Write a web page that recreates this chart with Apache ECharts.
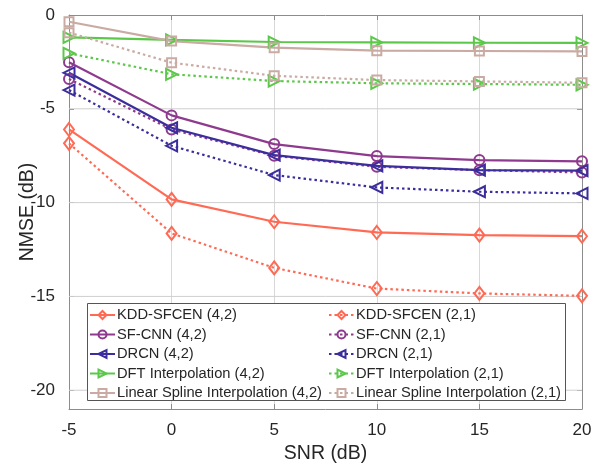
<!DOCTYPE html>
<html><head><meta charset="utf-8">
<script src="https://cdn.jsdelivr.net/npm/echarts@6/dist/echarts.min.js"></script>
<style>html,body{margin:0;padding:0;background:#fff}#c{width:600px;height:464px}</style>
</head><body><div id="c"></div>
<script>
const snr = [-5, 0, 5, 10, 15, 20];
const yTicks = [-20, -15, -10, -5, 0];
const kdd42 = [-6.10, -9.83, -11.02, -11.59, -11.73, -11.79];
const kdd21 = [-6.84, -11.64, -13.48, -14.58, -14.84, -14.97];
const sfcnn42 = [-2.52, -5.35, -6.88, -7.52, -7.73, -7.80];
const sfcnn21 = [-3.41, -6.10, -7.50, -8.09, -8.27, -8.39];
const drcn42 = [-3.08, -6.01, -7.47, -8.04, -8.27, -8.30];
const drcn21 = [-4.00, -6.97, -8.53, -9.19, -9.42, -9.51];
const dft42 = [-1.19, -1.33, -1.44, -1.46, -1.48, -1.49];
const dft21 = [-2.04, -3.16, -3.52, -3.64, -3.68, -3.72];
const spline42 = [-0.36, -1.39, -1.74, -1.90, -1.92, -1.94];
const spline21 = [-0.94, -2.54, -3.24, -3.47, -3.54, -3.61];

const names = {
  kdd42: 'KDD-SFCEN (4,2)', kdd21: 'KDD-SFCEN (2,1)',
  sf42: 'SF-CNN (4,2)', sf21: 'SF-CNN (2,1)',
  dr42: 'DRCN (4,2)', dr21: 'DRCN (2,1)',
  dft42: 'DFT Interpolation (4,2)', dft21: 'DFT Interpolation (2,1)',
  sp42: 'Linear Spline Interpolation (4,2)', sp21: 'Linear Spline Interpolation (2,1)'
};
const C = { kdd: '#ff6a55', sf: '#8e3a8e', dr: '#3b2e9c', dft: '#5cc84a', sp: '#c9aba3' };

function mk(name, vals, color, symbol, rot, size, dotted) {
  return {
    name, type: 'line', data: snr.map((x, i) => [x, vals[i]]),
    symbol, symbolRotate: rot, symbolSize: size, z: 3,
    lineStyle: { color, width: 2.2, type: dotted ? [2.5, 3] : 'solid' },
    itemStyle: { color: 'rgba(255,255,255,0)', borderColor: color, borderWidth: 2 },
    emphasis: { disabled: true }, animation: false
  };
}
const series = [];
// horizontal grid lines at the y tick values (under the data)
yTicks.filter(v => v !== 0).forEach(v => {
  series.push({
    name: 'grid' + v, type: 'line', silent: true, z: 1, symbol: 'none', animation: false,
    data: [[snr[0], v], [snr[snr.length - 1], v]],
    lineStyle: { color: '#cfcfcf', width: 1 }, emphasis: { disabled: true }
  });
});
series.push(
  mk(names.kdd42, kdd42, C.kdd, 'diamond', 0, [10, 13], false),
  mk(names.kdd21, kdd21, C.kdd, 'diamond', 0, [10, 13], true),
  mk(names.sf42, sfcnn42, C.sf, 'circle', 0, 10, false),
  mk(names.sf21, sfcnn21, C.sf, 'circle', 0, 10, true),
  mk(names.dr42, drcn42, C.dr, 'triangle', 90, 11, false),
  mk(names.dr21, drcn21, C.dr, 'triangle', 90, 11, true),
  mk(names.dft42, dft42, C.dft, 'triangle', -90, 11, false),
  mk(names.dft21, dft21, C.dft, 'triangle', -90, 11, true),
  mk(names.sp42, spline42, C.sp, 'rect', 0, 9, false),
  mk(names.sp21, spline21, C.sp, 'rect', 0, 9, true)
);

const fontFam = '"Liberation Sans", Arial, sans-serif';
const legendBase = {
  orient: 'vertical', itemWidth: 25, itemHeight: 10, itemGap: 3.5, top: 307, z: 10,
  textStyle: { fontFamily: fontFam, fontSize: 14.7, color: '#262626', lineHeight: 16, padding: [0, 0, 0, -3] },
  selectedMode: false, padding: 0
};
const axisCol = '#8c8c8c';
const gridCol = '#d8d8d8';

const chart = echarts.init(document.getElementById('c'), null, { renderer: 'canvas' });
chart.setOption({
  animation: false,
  backgroundColor: '#fff',
  grid: { left: 69, right: 18, top: 15, bottom: 55, containLabel: false, outerBoundsMode: 'none' },
  xAxis: [{
    type: 'value', min: -5, max: 20, interval: 5, position: 'bottom',
    name: 'SNR (dB)', nameLocation: 'middle', nameGap: 35, nameMoveOverlap: false,
    nameTextStyle: { fontFamily: fontFam, fontSize: 19.5, color: '#262626' },
    axisLine: { show: true, onZero: false, lineStyle: { color: axisCol, width: 1 } },
    axisTick: { show: true, inside: true, length: 5, lineStyle: { color: axisCol } },
    axisLabel: { fontFamily: fontFam, fontSize: 17, color: '#262626', margin: 13 },
    splitLine: { show: true, lineStyle: { color: gridCol, width: 1 } }
  }, {
    type: 'value', min: -5, max: 20, interval: 5, position: 'top',
    axisLine: { show: true, onZero: false, lineStyle: { color: axisCol, width: 1 } },
    axisTick: { show: true, inside: true, length: 5, lineStyle: { color: axisCol } },
    axisLabel: { show: false }, splitLine: { show: false }
  }],
  yAxis: [{
    type: 'value', min: -21, max: 0, position: 'left',
    name: 'NMSE (dB)', nameLocation: 'middle', nameGap: 31, nameMoveOverlap: false,
    nameTextStyle: { fontFamily: fontFam, fontSize: 19.5, color: '#262626' },
    axisLine: { show: true, onZero: false, lineStyle: { color: axisCol, width: 1 } },
    axisTick: { show: true, inside: true, length: 5, customValues: yTicks, lineStyle: { color: axisCol } },
    axisLabel: { fontFamily: fontFam, fontSize: 17, color: '#262626', margin: 14, customValues: yTicks },
    splitLine: { show: false }
  }, {
    type: 'value', min: 0, max: 21, interval: 5, inverse: true, position: 'right',
    axisLine: { show: true, onZero: false, lineStyle: { color: axisCol, width: 1 } },
    axisTick: { show: true, inside: true, length: 5, lineStyle: { color: axisCol } },
    axisLabel: { show: false },
    splitLine: { show: false }
  }],
  graphic: [{
    type: 'rect', z: 5, silent: true,
    shape: { x: 87.5, y: 303.5, width: 478, height: 97 },
    style: { fill: '#fff', stroke: '#555', lineWidth: 1 }
  }],
  legend: [
    Object.assign({}, legendBase, { left: 89, data: [names.kdd42, names.sf42, names.dr42, names.dft42, names.sp42] }),
    Object.assign({}, legendBase, { left: 328, data: [names.kdd21, names.sf21, names.dr21, names.dft21, names.sp21] })
  ],
  series
});
</script></body></html>
